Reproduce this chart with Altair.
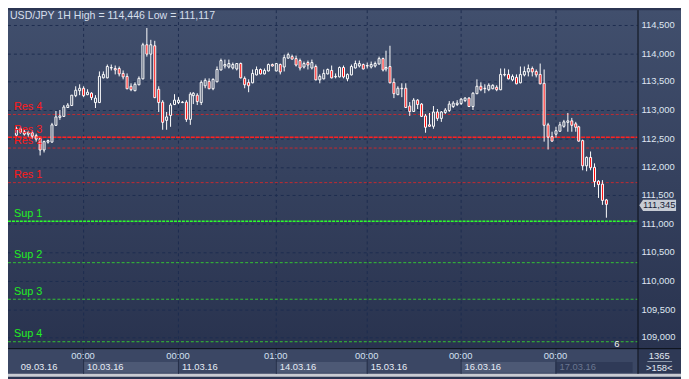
import altair as alt
import pandas as pd

# ---------------- data ----------------
opens = [112.572, 112.674, 112.623, 112.588, 112.605, 112.555, 112.504, 112.316, 112.453, 112.453,
         112.742, 112.879, 112.896, 113.050, 113.084, 113.254, 113.357, 113.391, 113.288, 113.305,
         113.135, 113.135, 113.578, 113.578, 113.749, 113.732, 113.732, 113.646, 113.595, 113.425,
         113.357, 113.459, 113.561, 114.141, 113.988, 114.124, 113.374, 113.135, 112.828, 112.913,
         113.101, 113.135, 113.135, 113.135, 112.845, 113.254, 113.271, 113.135, 113.442, 113.510,
         113.391, 113.510, 113.715, 113.783, 113.766, 113.749, 113.732, 113.817, 113.561, 113.493,
         113.493, 113.629, 113.715, 113.646, 113.698, 113.800, 113.698, 113.800, 113.766, 113.920,
         113.937, 113.903, 113.869, 113.766, 113.834, 113.749, 113.766, 113.544, 113.561, 113.646,
         113.698, 113.595, 113.595, 113.749, 113.561, 113.629, 113.749, 113.783, 113.800, 113.783,
         113.766, 113.783, 113.817, 113.903, 113.732, 113.766, 113.493, 113.288, 113.391, 113.391,
         113.067, 112.981, 113.169, 113.101, 112.896, 112.742, 112.725, 112.964, 112.862, 112.964,
         112.998, 113.067, 113.101, 113.118, 113.169, 113.203, 113.067, 113.305, 113.425, 113.391,
         113.374, 113.391, 113.408, 113.374, 113.629, 113.629, 113.544, 113.578, 113.493, 113.629,
         113.681, 113.732, 113.681, 113.629, 113.476, 112.742, 112.538, 112.588, 112.640, 112.725,
         112.794, 112.811, 112.759, 112.708, 112.470, 112.026, 112.162, 111.991, 111.753, 111.701,
         111.428]
highs = [112.708, 112.708, 112.657, 112.640, 112.640, 112.588, 112.521, 112.470, 112.487, 112.777,
         112.981, 112.998, 113.084, 113.118, 113.271, 113.425, 113.459, 113.425, 113.374, 113.322,
         113.254, 113.681, 113.681, 113.800, 113.800, 113.783, 113.766, 113.698, 113.646, 113.476,
         113.493, 113.595, 114.176, 114.446, 114.227, 114.210, 113.425, 113.169, 112.964, 113.118,
         113.288, 113.220, 113.152, 113.169, 113.322, 113.322, 113.305, 113.527, 113.561, 113.561,
         113.561, 113.766, 113.903, 113.886, 113.886, 113.834, 113.817, 113.834, 113.595, 113.544,
         113.715, 113.766, 113.732, 113.732, 113.817, 113.817, 113.817, 113.817, 113.971, 114.005,
         113.971, 113.954, 113.903, 113.852, 113.869, 113.886, 113.800, 113.629, 113.715, 113.732,
         113.783, 113.646, 113.766, 113.783, 113.646, 113.800, 113.869, 113.869, 113.817, 113.834,
         113.852, 113.852, 113.937, 113.920, 114.039, 114.124, 113.561, 113.425, 113.476, 113.476,
         113.135, 113.203, 113.186, 113.118, 112.930, 112.947, 113.067, 113.016, 112.981, 113.033,
         113.152, 113.152, 113.169, 113.203, 113.220, 113.220, 113.322, 113.544, 113.493, 113.459,
         113.476, 113.459, 113.442, 113.732, 113.732, 113.715, 113.629, 113.629, 113.766, 113.766,
         113.800, 113.766, 113.715, 113.817, 113.715, 112.777, 112.623, 112.708, 112.794, 112.828,
         112.947, 112.862, 112.794, 112.725, 112.487, 112.179, 112.265, 112.060, 111.770, 111.770,
         111.440]
lows = [112.538, 112.588, 112.555, 112.538, 112.504, 112.453, 112.196, 112.247, 112.419, 112.436,
        112.725, 112.828, 112.879, 113.033, 113.067, 113.220, 113.254, 113.220, 113.254, 113.169,
        113.033, 113.118, 113.561, 113.561, 113.698, 113.629, 113.595, 113.544, 113.374, 113.340,
        113.340, 113.442, 113.544, 113.937, 113.544, 113.203, 112.964, 112.657, 112.657, 112.708,
        113.084, 113.101, 113.118, 112.794, 112.742, 113.101, 113.084, 113.084, 113.391, 113.374,
        113.357, 113.493, 113.698, 113.732, 113.732, 113.715, 113.698, 113.561, 113.391, 113.322,
        113.476, 113.612, 113.629, 113.629, 113.681, 113.766, 113.681, 113.629, 113.681, 113.903,
        113.886, 113.766, 113.698, 113.732, 113.715, 113.715, 113.527, 113.476, 113.544, 113.629,
        113.561, 113.561, 113.578, 113.561, 113.510, 113.612, 113.732, 113.749, 113.715, 113.732,
        113.732, 113.749, 113.800, 113.681, 113.681, 113.476, 113.203, 113.271, 113.220, 113.033,
        112.896, 112.964, 113.016, 112.879, 112.605, 112.708, 112.674, 112.811, 112.794, 112.930,
        112.964, 113.033, 113.067, 113.084, 113.135, 113.050, 112.998, 113.288, 113.340, 113.305,
        113.340, 113.374, 113.340, 113.357, 113.595, 113.544, 113.510, 113.459, 113.476, 113.595,
        113.595, 113.595, 113.578, 113.459, 112.453, 112.316, 112.453, 112.521, 112.623, 112.691,
        112.623, 112.623, 112.623, 112.453, 111.940, 111.923, 111.940, 111.650, 111.462, 111.343,
        111.117]
closes = [112.674, 112.623, 112.588, 112.605, 112.555, 112.504, 112.316, 112.453, 112.470, 112.742,
          112.879, 112.896, 113.050, 113.084, 113.254, 113.357, 113.391, 113.271, 113.322, 113.220,
          113.203, 113.595, 113.629, 113.766, 113.755, 113.715, 113.646, 113.595, 113.391, 113.374,
          113.459, 113.561, 114.141, 113.988, 114.141, 113.220, 113.135, 112.794, 112.879, 113.084,
          113.169, 113.169, 113.140, 112.845, 113.288, 113.305, 113.152, 113.493, 113.527, 113.391,
          113.544, 113.715, 113.869, 113.800, 113.817, 113.800, 113.817, 113.578, 113.459, 113.442,
          113.646, 113.715, 113.646, 113.698, 113.800, 113.783, 113.817, 113.681, 113.920, 113.971,
          113.903, 113.800, 113.749, 113.817, 113.800, 113.834, 113.544, 113.595, 113.646, 113.715,
          113.578, 113.600, 113.749, 113.595, 113.629, 113.766, 113.817, 113.817, 113.732, 113.778,
          113.800, 113.817, 113.903, 113.715, 113.749, 113.493, 113.305, 113.391, 113.385, 113.050,
          112.981, 113.169, 113.101, 112.896, 112.708, 112.725, 112.964, 112.862, 112.964, 112.998,
          113.101, 113.118, 113.118, 113.186, 113.203, 113.067, 113.305, 113.425, 113.374, 113.385,
          113.442, 113.442, 113.374, 113.629, 113.625, 113.561, 113.595, 113.476, 113.629, 113.681,
          113.732, 113.681, 113.629, 113.476, 112.742, 112.538, 112.470, 112.640, 112.742, 112.794,
          112.811, 112.742, 112.708, 112.470, 112.026, 112.162, 111.991, 111.753, 111.701, 111.428,
          111.345]

price_ticks = [109.0, 109.5, 110.0, 110.5, 111.0, 111.5, 112.0, 112.5, 113.0, 113.5, 114.0, 114.5]
grid_bars = [17, 41, 66, 89, 113, 137]          # candle index of the vertical grid lines
time_labels = ["00:00", "00:00", "01:00", "00:00", "00:00", "00:00"]
date_labels = ["09.03.16", "10.03.16", "11.03.16", "14.03.16", "15.03.16", "16.03.16", "17.03.16"]
res_names = ["Res 4", "Res 3", "Res 2", "Res 1"]
res_values = [112.930, 112.532, 112.345, 111.730]
sup_names = ["Sup 1", "Sup 2", "Sup 3", "Sup 4"]
sup_values = [111.065, 110.336, 109.682, 108.932]
last_price = 111.345
high_value = 114.446
low_value = 111.117
bars_total = "1365"
bars_shown = ">158<"
corner_mark = "6"

# ---------------- layout ----------------
W, H = 637, 342
FONT = "Liberation Sans"
X_DOM = [-0.86, 156.7]
Y_DOM = [108.817, 114.756]


def fmt(v):
    return f"{v:.3f}".replace(".", ",")


xs = alt.Scale(domain=X_DOM, nice=False, zero=False, round=True)
ys = alt.Scale(domain=Y_DOM, nice=False, zero=False, round=True)


def X(f):
    return alt.X(f, type="quantitative", scale=xs, axis=None)


def Y(f):
    return alt.Y(f, type="quantitative", scale=ys, axis=None)


one = pd.DataFrame({"a": [0]})

n = len(opens)
candles = pd.DataFrame({"k": list(range(n)), "o": opens, "h": highs, "l": lows, "c": closes})
candles["lo_b"] = candles[["o", "c"]].min(axis=1)
candles["hi_b"] = candles[["o", "c"]].max(axis=1)
candles["down"] = candles["c"] < candles["o"]

grad = {"gradient": "linear", "x1": 0, "x2": 0, "y1": 0, "y2": 1,
        "stops": [{"offset": 0, "color": "#414f6d"}, {"offset": 1, "color": "#29334f"}]}

bg = alt.Chart(one).mark_rect(color=grad).encode(
    x=alt.value(0), x2=alt.value(W + 44), y=alt.value(0), y2=alt.value(H))
bottom_bg = alt.Chart(one).mark_rect(color="#3b4764").encode(
    x=alt.value(0), x2=alt.value(W + 44), y=alt.value(H), y2=alt.value(H + 26))
corner_bg = alt.Chart(one).mark_rect(color="#2e3955").encode(
    x=alt.value(W + 1), x2=alt.value(W + 44), y=alt.value(H), y2=alt.value(H + 26))
frame_strip = alt.Chart(one).mark_rect(color="#c9ccd3").encode(
    x=alt.value(0), x2=alt.value(W + 44), y=alt.value(H + 26), y2=alt.value(H + 29))

# date boxes in the time axis
starts = [X_DOM[0]] + grid_bars
ends = grid_bars + [X_DOM[1]]
last_i = len(date_labels) - 1
dates = pd.DataFrame({"s": starts, "e": ends, "d": date_labels,
                      "i": list(range(len(date_labels))),
                      "lx": [1.1] + [g + 1.0 for g in grid_bars]})
date_boxes = alt.Chart(dates).transform_filter("datum.i % 2 == 1").mark_rect(color="#4d5975").encode(
    x=X("s"), x2="e:Q", y=alt.value(H + 14), y2=alt.value(H + 25))
date_box_last = alt.Chart(dates).transform_filter(f"datum.i == {last_i}").mark_rect(color="#2f3a57").encode(
    x=X("s"), x2="e:Q", y=alt.value(H + 14), y2=alt.value(H + 25))
date_text = alt.Chart(dates).transform_filter(f"datum.i != {last_i}").mark_text(
    align="left", baseline="middle", fontSize=9.5, font=FONT, color="#e6ecf5").encode(
    x=X("lx"), y=alt.value(H + 19.5), text="d:N")
date_text_last = alt.Chart(dates).transform_filter(f"datum.i == {last_i}").mark_text(
    align="left", baseline="middle", fontSize=9.5, font=FONT, color="#6a7690").encode(
    x=X("lx"), y=alt.value(H + 19.5), text="d:N")

times = pd.DataFrame({"k": grid_bars, "t": time_labels})
time_text = alt.Chart(times).mark_text(align="center", baseline="middle", fontSize=9.5, font=FONT,
                                       color="#d3e0f2").encode(
    x=X("k"), y=alt.value(H + 8), text="t:N")
axis_dividers = alt.Chart(times).mark_rule(color="#252f48", strokeWidth=1, xOffset=0.5).encode(
    x=X("k"), y=alt.value(H), y2=alt.value(H + 26))

# grid
hgrid = alt.Chart(pd.DataFrame({"p": price_ticks})).mark_rule(
    color="#1d2d4f", strokeDash=[3, 3], yOffset=0.5).encode(
    y=Y("p"), x=alt.value(0), x2=alt.value(W))
vgrid = alt.Chart(times).mark_rule(color="#1d2d4f", strokeDash=[3, 3], xOffset=0.5).encode(
    x=X("k"), y=alt.value(0), y2=alt.value(H))

# support / resistance
res = pd.DataFrame({"name": res_names, "v": res_values})
sup = pd.DataFrame({"name": sup_names, "v": sup_values})


def level_rule(df, color, width, dash):
    return alt.Chart(df).mark_rule(color=color, strokeWidth=width, strokeDash=dash, yOffset=0.5).encode(
        y=Y("v"), x=alt.value(0), x2=alt.value(W))


res_main = res[res["name"] == "Res 3"]
res_other = res[res["name"] != "Res 3"]
sup_main = sup[sup["name"] == "Sup 1"]
sup_other = sup[sup["name"] != "Sup 1"]
level_rules = [
    level_rule(res_other, "#c42a30", 1, [3, 2]),
    level_rule(res_main, "#ff2020", 1.6, [4, 1]),
    level_rule(sup_other, "#34c434", 1, [3, 2]),
    level_rule(sup_main, "#2cff2c", 1.5, [3, 1]),
]
res_text = alt.Chart(res).mark_text(align="left", baseline="alphabetic", dy=-4, fontSize=11,
                                    font=FONT, color="#ff1a1a").encode(
    y=Y("v"), x=alt.value(6), text="name:N")
sup_text = alt.Chart(sup).mark_text(align="left", baseline="alphabetic", dy=-4, fontSize=11,
                                    font=FONT, color="#22ee22").encode(
    y=Y("v"), x=alt.value(6), text="name:N")

# candles
wicks = alt.Chart(candles).mark_rule(color="#ffffff", strokeWidth=1, xOffset=0.5).encode(
    x=X("k"), y=Y("l"), y2="h:Q")
bodies = alt.Chart(candles).mark_bar(size=2, stroke="#ffffff", strokeWidth=1,
                                     xOffset=0.5, yOffset=0.5).encode(
    x=X("k"), y=Y("lo_b"), y2="hi_b:Q",
    fill=alt.condition("datum.down", alt.value("#ff0000"), alt.value("#39455f")))

# separators
vsep = alt.Chart(one).mark_rule(color="#0a0e17", strokeWidth=1).encode(
    x=alt.value(W + 0.5), y=alt.value(0), y2=alt.value(H + 26))
hsep = alt.Chart(one).mark_rule(color="#0a0e17", strokeWidth=1).encode(
    y=alt.value(H + 0.5), x=alt.value(0), x2=alt.value(W + 44))

# right price scale
ticks = pd.DataFrame({"p": price_ticks, "lab": [fmt(p) for p in price_ticks]})
price_labels = alt.Chart(ticks).mark_text(align="left", baseline="middle", fontSize=9.5, font=FONT,
                                          color="#dfe6f1").encode(
    y=Y("p"), x=alt.value(W + 4), text="lab:N")

tag_df = pd.DataFrame({"p": [last_price], "lab": [fmt(last_price)]})
tag = alt.Chart(tag_df).mark_point(
    shape="M -1 0 L -0.82 -0.27 L 1 -0.27 L 1 0.27 L -0.82 0.27 Z",
    size=1225, filled=True, fill="#c6cbd4", stroke="#c6cbd4", opacity=1, yOffset=1.5).encode(
    y=Y("p"), x=alt.value(W + 20.5))
tag_text = alt.Chart(tag_df).mark_text(align="center", baseline="middle", fontSize=9.5, font=FONT,
                                       color="#161e36", dx=1.5, dy=1.5).encode(
    y=Y("p"), x=alt.value(W + 20.5), text="lab:N")

corner_top = alt.Chart(one).mark_text(align="center", baseline="middle", fontSize=9.5, font=FONT,
                                      color="#e2e8f2").encode(
    x=alt.value(W + 22), y=alt.value(H + 7.5), text=alt.value(bars_total))
corner_bottom = alt.Chart(one).mark_text(align="center", baseline="middle", fontSize=9.5, font=FONT,
                                         color="#e2e8f2").encode(
    x=alt.value(W + 22), y=alt.value(H + 20), text=alt.value(bars_shown))
corner_line = alt.Chart(one).mark_rule(color="#8d97aa", strokeWidth=1).encode(
    x=alt.value(W + 10), x2=alt.value(W + 35), y=alt.value(H + 13.5))

title_str = f"USD/JPY 1H High = {fmt(high_value)} Low = {fmt(low_value)}"
title = alt.Chart(one).mark_text(align="left", baseline="alphabetic", fontSize=10.7, font=FONT,
                                 color="#d6dfec").encode(
    x=alt.value(2), y=alt.value(9), text=alt.value(title_str))
six = alt.Chart(one).mark_text(align="center", baseline="middle", fontSize=9.5, font=FONT,
                               color="#f0f0f0").encode(
    x=alt.value(616), y=alt.value(338), text=alt.value(corner_mark))

chart = alt.layer(
    bg, bottom_bg, corner_bg, date_boxes, date_box_last, frame_strip, axis_dividers,
    hgrid, vgrid, *level_rules, wicks, bodies, res_text, sup_text,
    vsep, hsep, price_labels, tag, tag_text, corner_top, corner_bottom, corner_line,
    date_text, date_text_last, time_text, title, six,
).properties(
    width=W, height=H,
    padding={"left": 0, "top": 0, "right": 44, "bottom": 29},
    autosize=alt.AutoSizeParams(type="none"),
    background="#2b3552",
).configure_view(stroke=None)

chart.save("out.html", embed_options={"renderer": "svg", "actions": False})
